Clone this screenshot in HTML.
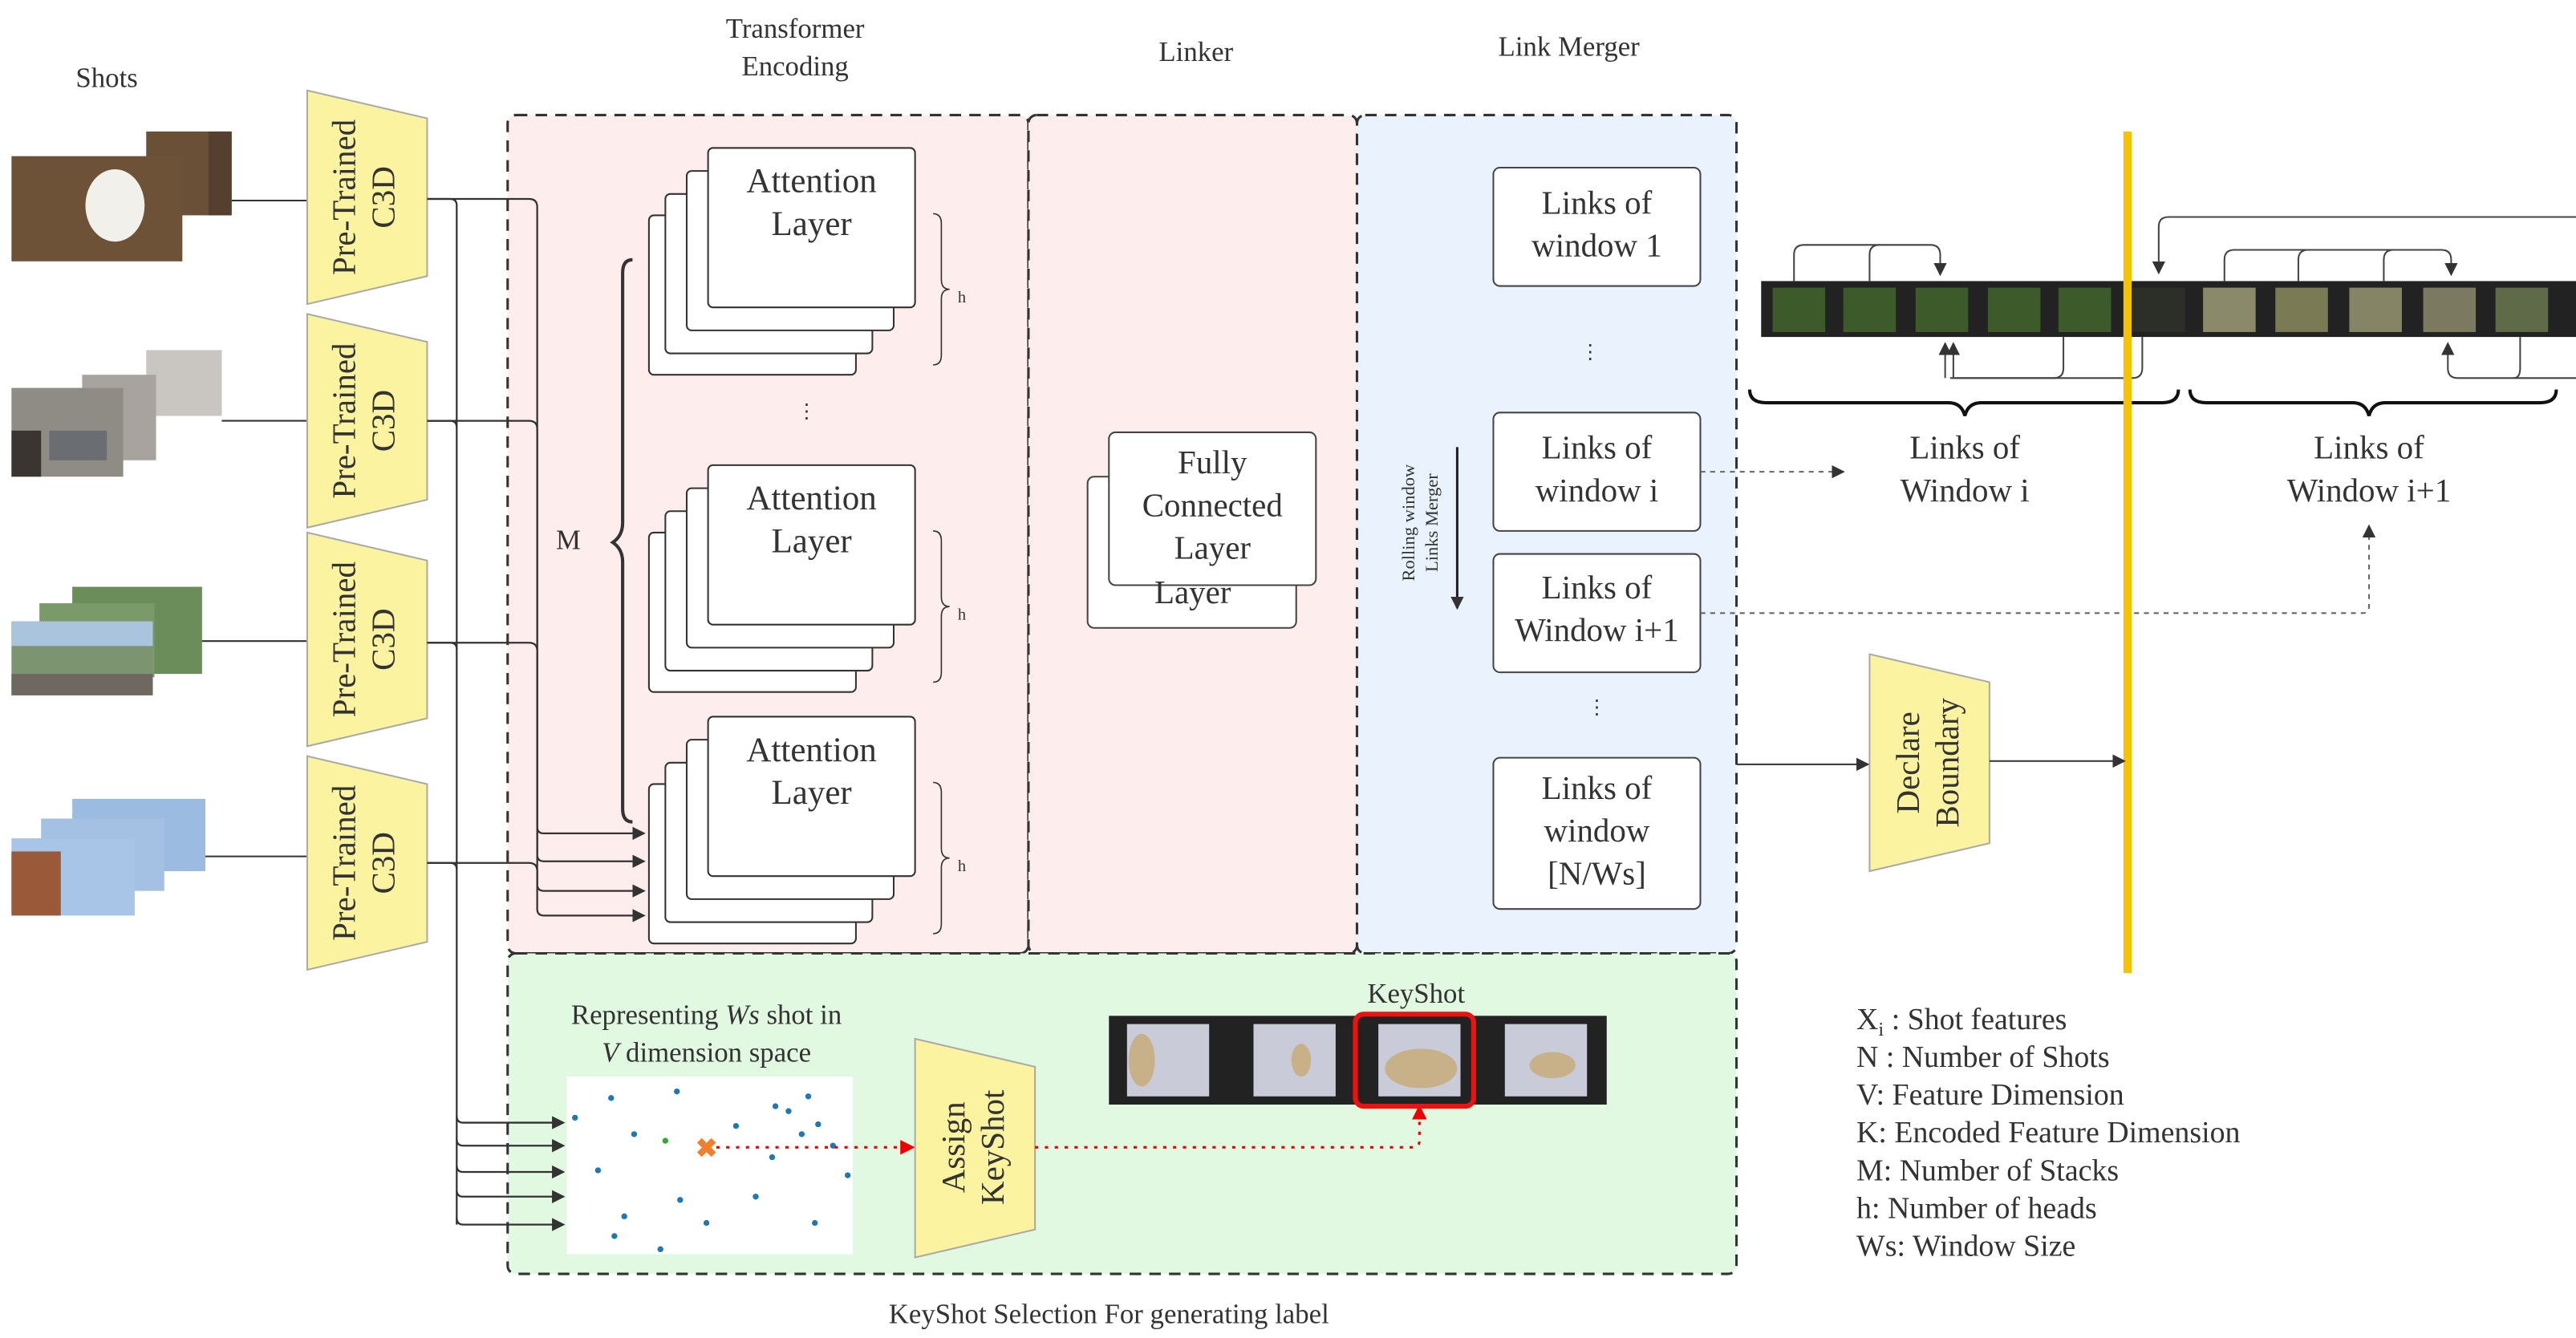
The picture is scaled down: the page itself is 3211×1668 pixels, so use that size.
<!DOCTYPE html>
<html><head><meta charset="utf-8"><style>
html,body{margin:0;padding:0;background:#fff;overflow:hidden;width:3211px;height:1668px;}
svg{display:block;}
text{font-family:"Liberation Serif",serif;fill:#333;}
</style></head><body>
<svg width="3211" height="1668" viewBox="0 0 1568 814" preserveAspectRatio="none" xmlns="http://www.w3.org/2000/svg">
<defs>
<marker id="ar" markerWidth="8" markerHeight="8" refX="7" refY="4" orient="auto" markerUnits="userSpaceOnUse"><path d="M0,0 L8,4 L0,8 z" fill="#333"/></marker>
<marker id="arr" markerWidth="9" markerHeight="9" refX="8" refY="4.5" orient="auto" markerUnits="userSpaceOnUse"><path d="M0,0 L9,4.5 L0,9 z" fill="#e00"/></marker>
<g id="trap"><path d="M0,0 L73,17 L73,113 L0,130 z" fill="#fbf3a0" stroke="#aaa" stroke-width="1"/></g>
<g id="att">
<rect x="395" y="131" width="126" height="97" rx="3" fill="#fff" stroke="#333"/>
<rect x="405" y="118" width="126" height="97" rx="3" fill="#fff" stroke="#333"/>
<rect x="418" y="104" width="126" height="97" rx="3" fill="#fff" stroke="#333"/>
<rect x="431" y="90" width="126" height="97" rx="3" fill="#fff" stroke="#333"/>
<text x="494" y="117" font-size="21" text-anchor="middle">Attention</text>
<text x="494" y="143" font-size="21" text-anchor="middle">Layer</text>
<path d="M568,130 q5,0 5,6 v34 q0,6 5,6 q-5,0 -5,6 v34 q0,6 -5,6" fill="none" stroke="#333" stroke-width="0.8"/>
<text x="583" y="184" font-size="10">h</text>
</g>
<g id="mbox"><rect x="0" y="0" width="126" height="72" rx="4" fill="#fff" stroke="#444"/></g>
</defs>

<rect x="309" y="70" width="317" height="510" fill="#fdeeed" stroke="#333" stroke-width="1.5" stroke-dasharray="7,5" rx="5"/>
<rect x="626" y="70" width="200" height="510" fill="#fdeeed" stroke="#333" stroke-width="1.5" stroke-dasharray="7,5" rx="5"/>
<rect x="826" y="70" width="231" height="510" fill="#eaf3fd" stroke="#333" stroke-width="1.5" stroke-dasharray="7,5" rx="5"/>
<rect x="309" y="580" width="748" height="195" fill="#e1f9e1" stroke="#333" stroke-width="1.5" stroke-dasharray="7,5" rx="5"/>

<text x="65" y="53" font-size="17" text-anchor="middle">Shots</text>
<text x="484" y="23" font-size="17" text-anchor="middle">Transformer</text>
<text x="484" y="46" font-size="17" text-anchor="middle">Encoding</text>
<text x="728" y="37" font-size="17" text-anchor="middle">Linker</text>
<text x="955" y="34" font-size="17" text-anchor="middle">Link Merger</text>

<g>
<rect x="89" y="80" width="52" height="51" fill="#6b5038"/><rect x="40" y="104" width="52" height="41" fill="#5e4a35"/>
<rect x="7" y="95" width="104" height="64" fill="#6e5237"/><ellipse cx="70" cy="125" rx="18" ry="22" fill="#f2f0ea"/>
<rect x="127" y="80" width="14" height="51" fill="#554030"/>
</g>
<g>
<rect x="89" y="213" width="46" height="40" fill="#c9c6c2"/><rect x="50" y="228" width="45" height="52" fill="#a8a39e"/>
<rect x="7" y="236" width="68" height="54" fill="#8f8b85"/><rect x="30" y="262" width="35" height="18" fill="#6a6e72"/><rect x="7" y="262" width="18" height="28" fill="#3a3530"/>
</g>
<g>
<rect x="44" y="357" width="79" height="53" fill="#6a8d5a"/><rect x="24" y="367" width="70" height="45" fill="#7a9a6a"/>
<rect x="7" y="378" width="86" height="45" fill="#7c9470"/><rect x="7" y="378" width="86" height="15" fill="#a9c4dc"/><rect x="7" y="410" width="86" height="13" fill="#6e6860"/>
</g>
<g>
<rect x="44" y="486" width="81" height="44" fill="#9cbbe0"/><rect x="25" y="498" width="75" height="44" fill="#a4c1e3"/>
<rect x="7" y="510" width="75" height="47" fill="#a8c4e6"/><rect x="7" y="518" width="30" height="39" fill="#9a5a3a"/>
</g>
<line x1="141" y1="122" x2="187" y2="122" stroke="#333"/>
<line x1="135" y1="256" x2="187" y2="256" stroke="#333"/>
<line x1="123" y1="390" x2="187" y2="390" stroke="#333"/>
<line x1="125" y1="521" x2="187" y2="521" stroke="#333"/>

<use href="#trap" x="187" y="55"/><use href="#trap" x="187" y="191"/><use href="#trap" x="187" y="324"/><use href="#trap" x="187" y="460"/>
<g font-size="20">
<text transform="translate(216,120) rotate(-90)" text-anchor="middle">Pre-Trained</text><text transform="translate(240,120) rotate(-90)" text-anchor="middle">C3D</text>
<text transform="translate(216,256) rotate(-90)" text-anchor="middle">Pre-Trained</text><text transform="translate(240,256) rotate(-90)" text-anchor="middle">C3D</text>
<text transform="translate(216,389) rotate(-90)" text-anchor="middle">Pre-Trained</text><text transform="translate(240,389) rotate(-90)" text-anchor="middle">C3D</text>
<text transform="translate(216,525) rotate(-90)" text-anchor="middle">Pre-Trained</text><text transform="translate(240,525) rotate(-90)" text-anchor="middle">C3D</text>
</g>

<g fill="none" stroke="#333" stroke-width="1.1">
<path d="M260,121 H322 q5,0 5,5 V503 q0,4 4,4 H392" marker-end="url(#ar)"/>
<path d="M260,256 H322 q5,0 5,5 V520 q0,4 4,4 H392" marker-end="url(#ar)"/>
<path d="M260,391 H322 q5,0 5,5 V538 q0,4 4,4 H392" marker-end="url(#ar)"/>
<path d="M260,525 H322 q5,0 5,5 V553 q0,4 4,4 H392" marker-end="url(#ar)"/>
<path d="M260,121 H274 q4,0 4,4 V745"/>
<path d="M260,256 H274 q4,0 4,4"/><path d="M260,391 H274 q4,0 4,4"/><path d="M260,525 H274 q4,0 4,4"/>
<path d="M278,679 q0,4 4,4 H343" marker-end="url(#ar)"/>
<path d="M278,693 q0,4 4,4 H343" marker-end="url(#ar)"/>
<path d="M278,709 q0,4 4,4 H343" marker-end="url(#ar)"/>
<path d="M278,724 q0,4 4,4 H343" marker-end="url(#ar)"/>
<path d="M278,741 q0,4 4,4 H343" marker-end="url(#ar)"/>
</g>

<use href="#att"/>
<use href="#att" transform="translate(0,193)"/>
<use href="#att" transform="translate(0,346)"/>
<text x="491" y="254" font-size="12" text-anchor="middle">⋮</text>
<path d="M385,158 q-6,0 -6,8 V318 q0,8 -6,12 q6,4 6,12 V492 q0,8 6,8" fill="none" stroke="#333" stroke-width="2"/>
<text x="346" y="334" font-size="17" text-anchor="middle">M</text>

<rect x="662" y="290" width="127" height="92" rx="4" fill="#fff" stroke="#444"/>
<rect x="675" y="263" width="126" height="93" rx="4" fill="#fff" stroke="#444"/>
<text x="738" y="288" font-size="20" text-anchor="middle">Fully</text>
<text x="738" y="314" font-size="20" text-anchor="middle">Connected</text>
<text x="738" y="340" font-size="20" text-anchor="middle">Layer</text>
<text x="726" y="367" font-size="20" text-anchor="middle">Layer</text>

<use href="#mbox" x="909" y="102"/><use href="#mbox" x="909" y="251"/><use href="#mbox" x="909" y="337"/>
<rect x="909" y="461" width="126" height="92" rx="4" fill="#fff" stroke="#444"/>
<g font-size="20" text-anchor="middle">
<text x="972" y="130">Links of</text><text x="972" y="156">window 1</text>
<text x="972" y="279">Links of</text><text x="972" y="305">window i</text>
<text x="972" y="364">Links of</text><text x="972" y="390">Window i+1</text>
<text x="972" y="486">Links of</text><text x="972" y="512">window</text><text x="972" y="538">[N/Ws]</text>
</g>
<text x="968" y="218" font-size="12" text-anchor="middle">⋮</text>
<text x="972" y="434" font-size="12" text-anchor="middle">⋮</text>
<text transform="translate(861,318) rotate(-90)" font-size="11" text-anchor="middle">Rolling window</text>
<text transform="translate(875,318) rotate(-90)" font-size="11" text-anchor="middle">Links  Merger</text>
<line x1="887" y1="272" x2="887" y2="370" stroke="#222" stroke-width="1.5" marker-end="url(#ar)"/>

<path d="M1035,287 H1122" fill="none" stroke="#666" stroke-dasharray="3,3" marker-end="url(#ar)"/>
<path d="M1035,373 H1438 q4,0 4,-4 V320" fill="none" stroke="#666" stroke-dasharray="3,3" marker-end="url(#ar)"/>

<rect x="1072" y="171" width="496" height="34" fill="#222"/>
<g fill="#3d5a2a">
<rect x="1079" y="175" width="32" height="27"/><rect x="1122" y="175" width="32" height="27"/><rect x="1166" y="175" width="32" height="27"/><rect x="1210" y="175" width="32" height="27"/><rect x="1253" y="175" width="32" height="27"/>
<rect x="1298" y="175" width="32" height="27" fill="#2b2f28"/>
<rect x="1341" y="175" width="32" height="27" fill="#8a8a6a"/><rect x="1385" y="175" width="32" height="27" fill="#7a7a55"/><rect x="1430" y="175" width="32" height="27" fill="#858566"/><rect x="1475" y="175" width="32" height="27" fill="#7b7a60"/><rect x="1519" y="175" width="32" height="27" fill="#5e6a48"/>
</g>
<g fill="none" stroke="#444" stroke-width="1">
<path d="M1092,171 V155 q0,-6 6,-6 H1175 q6,0 6,6 V167" marker-end="url(#ar)"/>
<path d="M1138,171 V155 q0,-6 6,-6"/>
<path d="M1187,230 H1250 q6,0 6,-6 V205"/><path d="M1184,230 V209" marker-end="url(#ar)"/>
<path d="M1189,230 V209" marker-end="url(#ar)"/><path d="M1190,230 H1298 q6,0 6,-6 V205"/>
<path d="M1568,132 H1320 q-6,0 -6,6 V166" marker-end="url(#ar)"/>
<path d="M1354,171 V158 q0,-6 6,-6 H1486 q6,0 6,6 V167" marker-end="url(#ar)"/>
<path d="M1399,171 V158 q0,-6 6,-6"/><path d="M1451,171 V158 q0,-6 6,-6"/>
<path d="M1568,230 H1496 q-6,0 -6,-6 V209" marker-end="url(#ar)"/><path d="M1530,230 q4,0 4,-6 V205"/>
</g>
<path d="M1065,237 q0,8 10,8 H1186 q8,0 10,8 q2,-8 10,-8 H1316 q10,0 10,-8" fill="none" stroke="#111" stroke-width="2"/>
<path d="M1333,237 q0,8 10,8 H1432 q8,0 10,8 q2,-8 10,-8 H1546 q10,0 10,-8" fill="none" stroke="#111" stroke-width="2"/>
<line x1="1295" y1="80" x2="1295" y2="592" stroke="#f5c400" stroke-width="5"/>
<g font-size="20" text-anchor="middle">
<text x="1196" y="279">Links of</text><text x="1196" y="305">Window i</text>
<text x="1442" y="279">Links of</text><text x="1442" y="305">Window i+1</text>
</g>

<path d="M1138,398 L1211,415 L1211,513 L1138,530 z" fill="#fbf3a0" stroke="#aaa"/>
<text transform="translate(1168,464) rotate(-90)" font-size="20" text-anchor="middle">Declare</text>
<text transform="translate(1192,464) rotate(-90)" font-size="20" text-anchor="middle">Boundary</text>
<line x1="1057" y1="465" x2="1137" y2="465" stroke="#333" marker-end="url(#ar)"/>
<line x1="1211" y1="463" x2="1293" y2="463" stroke="#333" marker-end="url(#ar)"/>

<g font-size="18.5">
<text x="1130" y="626">X<tspan font-size="12" dy="4">i</tspan><tspan dy="-4"> : Shot features</tspan></text>
<text x="1130" y="649">N : Number of Shots</text>
<text x="1130" y="672">V: Feature Dimension</text>
<text x="1130" y="695">K: Encoded Feature Dimension</text>
<text x="1130" y="718">M: Number of Stacks</text>
<text x="1130" y="741">h: Number of heads</text>
<text x="1130" y="764">Ws: Window Size</text>
</g>

<text x="430" y="623" font-size="17" text-anchor="middle">Representing <tspan font-style="italic">Ws</tspan> shot in</text>
<text x="430" y="646" font-size="17" text-anchor="middle"><tspan font-style="italic">V</tspan> dimension space</text>
<rect x="345" y="655" width="174" height="108" fill="#fff"/>
<g fill="#1f77b4">
<circle cx="350" cy="680" r="1.8"/><circle cx="372" cy="668" r="1.8"/><circle cx="412" cy="664" r="1.8"/><circle cx="386" cy="690" r="1.8"/><circle cx="364" cy="712" r="1.8"/><circle cx="380" cy="740" r="1.8"/><circle cx="374" cy="752" r="1.8"/><circle cx="402" cy="760" r="1.8"/><circle cx="414" cy="730" r="1.8"/><circle cx="448" cy="685" r="1.8"/><circle cx="472" cy="673" r="1.8"/><circle cx="480" cy="676" r="1.8"/><circle cx="492" cy="667" r="1.8"/><circle cx="498" cy="684" r="1.8"/><circle cx="488" cy="690" r="1.8"/><circle cx="470" cy="704" r="1.8"/><circle cx="460" cy="728" r="1.8"/><circle cx="496" cy="744" r="1.8"/><circle cx="516" cy="715" r="1.8"/><circle cx="507" cy="697" r="1.8"/><circle cx="430" cy="744" r="1.8"/>
</g>
<circle cx="405" cy="694" r="1.8" fill="#3a3"/>
<text x="430" y="704" font-size="16" text-anchor="middle" style="fill:#f08030;font-weight:bold">✖</text>
<path d="M436,698 H556" stroke="#e00" stroke-width="1.5" stroke-dasharray="2,4" fill="none" marker-end="url(#arr)"/>
<path d="M557,632 L630,649 L630,748 L557,765 z" fill="#fbf3a0" stroke="#aaa"/>
<text transform="translate(587,698) rotate(-90)" font-size="20" text-anchor="middle">Assign</text>
<text transform="translate(611,698) rotate(-90)" font-size="20" text-anchor="middle">KeyShot</text>
<path d="M630,698 H860 q4,0 4,-4 V673" stroke="#e00" stroke-width="1.5" stroke-dasharray="2,4" fill="none" marker-end="url(#arr)"/>
<text x="862" y="610" font-size="17" text-anchor="middle">KeyShot</text>
<rect x="675" y="618" width="303" height="54" fill="#222"/>
<g fill="#c9ccd8">
<rect x="686" y="623" width="50" height="44"/><rect x="763" y="623" width="50" height="44"/><rect x="839" y="623" width="50" height="44"/><rect x="916" y="623" width="50" height="44"/>
</g>
<g fill="#c8b089"><ellipse cx="695" cy="645" rx="8" ry="16"/><ellipse cx="792" cy="645" rx="6" ry="10"/><ellipse cx="865" cy="650" rx="22" ry="12"/><ellipse cx="945" cy="648" rx="14" ry="8"/></g>
<rect x="825" y="617" width="72" height="56" rx="5" fill="none" stroke="#e11" stroke-width="3"/>
<text x="675" y="805" font-size="17" text-anchor="middle">KeyShot Selection For generating label</text>
</svg>
</body></html>
